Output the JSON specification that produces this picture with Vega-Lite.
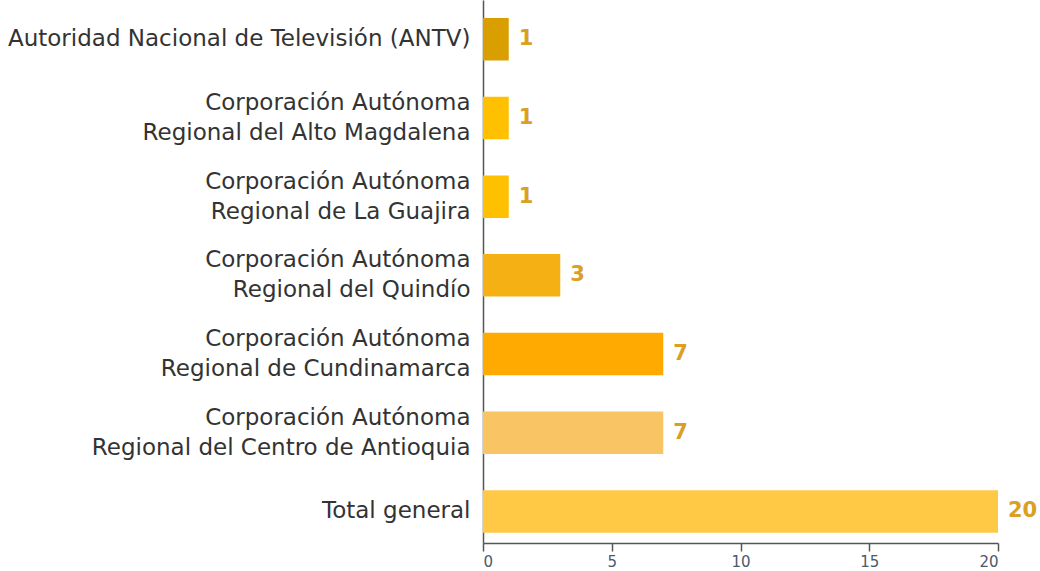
{
  "$schema": "https://vega.github.io/schema/vega-lite/v6.json",
  "width": 515,
  "height": 543,
  "autosize": {"type": "none"},
  "padding": {"left": 483, "top": 0, "right": 42, "bottom": 28},
  "background": "white",
  "config": {"view": {"stroke": null}, "font": "DejaVu Sans"},
  "data": {
    "values": [
      {"cat": "Autoridad Nacional de Televisión (ANTV)", "value": 1, "color": "c1"},
      {"cat": "Corporación Autónoma|Regional del Alto Magdalena", "value": 1, "color": "c2"},
      {"cat": "Corporación Autónoma|Regional de La Guajira", "value": 1, "color": "c3"},
      {"cat": "Corporación Autónoma|Regional del Quindío", "value": 3, "color": "c4"},
      {"cat": "Corporación Autónoma|Regional de Cundinamarca", "value": 7, "color": "c5"},
      {"cat": "Corporación Autónoma|Regional del Centro de Antioquia", "value": 7, "color": "c6"},
      {"cat": "Total general", "value": 20, "color": "c7"}
    ]
  },
  "encoding": {
    "y": {
      "field": "cat",
      "type": "nominal",
      "sort": null,
      "scale": {"paddingInner": 0.46, "paddingOuter": 0.18, "align": 0.636},
      "axis": {
        "title": null,
        "labelExpr": "split(datum.label, '|')",
        "labelFont": "DejaVu Sans",
        "labelFontSize": 23,
        "labelColor": "#333333",
        "labelLineHeight": 30,
        "labelPadding": 13,
        "labelOffset": {"expr": "indexof(datum.value, '|') >= 0 ? -15 : 0"},
        "ticks": false,
        "domain": true,
        "domainColor": "#555555",
        "domainWidth": 1.5,
        "labelLimit": 500
      }
    }
  },
  "layer": [
    {
      "mark": {"type": "bar"},
      "encoding": {
        "x": {
          "field": "value",
          "type": "quantitative",
          "scale": {"domain": [0, 20], "nice": false},
          "axis": {
            "title": null,
            "values": [0, 5, 10, 15, 20],
            "grid": false,
            "labelFontSize": 15,
            "labelColor": "#4a5a6e",
            "domainColor": "#555555",
            "domainWidth": 1.5,
            "tickColor": "#555555",
            "tickWidth": 1.5,
            "tickSize": 8,
            "labelPadding": 3
          }
        },
        "color": {
          "field": "color",
          "type": "nominal",
          "scale": {
            "domain": ["c1", "c2", "c3", "c4", "c5", "c6", "c7"],
            "range": ["#D99E00", "#FFC000", "#FFC000", "#F5B014", "#FFAA00", "#F9C464", "#FFC845"]
          },
          "legend": null
        }
      }
    },
    {
      "mark": {"type": "text", "align": "left", "baseline": "middle", "dx": 10, "fontSize": 21, "fontWeight": "bold", "color": "#D9A023", "font": "DejaVu Sans"},
      "encoding": {
        "x": {"field": "value", "type": "quantitative"},
        "text": {"field": "value", "type": "quantitative"}
      }
    }
  ]
}
